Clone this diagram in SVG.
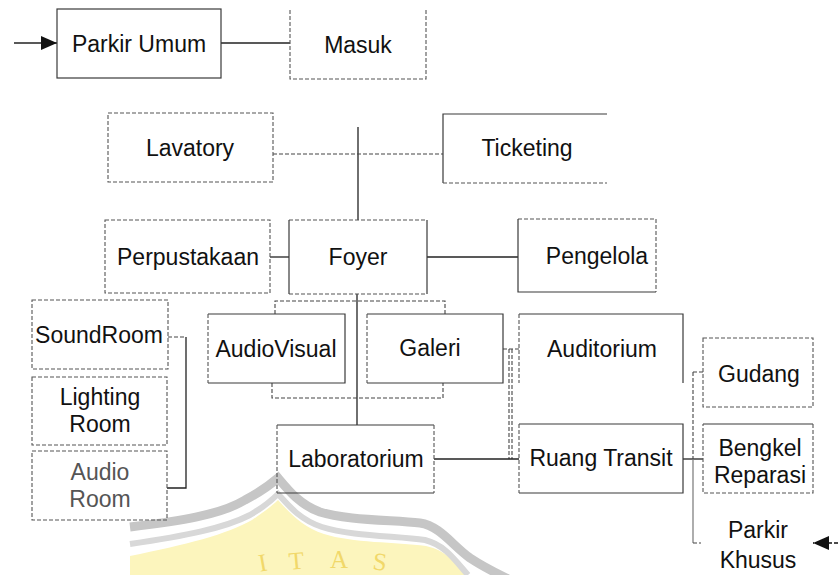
<svg xmlns="http://www.w3.org/2000/svg" width="838" height="575" viewBox="0 0 838 575">
<style>
  .bg{fill:#ffffff}
  .s{stroke:#3a3a3a;stroke-width:1.2;fill:none}
  .d{stroke:#555;stroke-width:1.1;fill:none;stroke-dasharray:4 2}
  .c{stroke:#222;stroke-width:1.3;fill:none}
  .cd{stroke:#444;stroke-width:1.1;fill:none;stroke-dasharray:4 2}
  text{font-family:"Liberation Sans",Arial,sans-serif;font-size:23px;fill:#111;text-anchor:middle}
  .g{fill:#555}
  .wm{font-family:"Liberation Serif","Times New Roman",serif;font-size:25px;fill:#f1d86a;text-anchor:middle}
</style>
<defs>
  <marker id="ah" markerWidth="18" markerHeight="16" refX="17" refY="8" orient="auto" markerUnits="userSpaceOnUse">
    <path d="M1,1 L17,8 L1,15 Z" fill="#111"/>
  </marker>
</defs>
<rect class="bg" x="0" y="0" width="838" height="575"/>

<g id="watermark">
  <path d="M130,556 C185,545 228,534 252,520 C264,512 273,505 278,500 C289,512 302,527 324,534 C352,543 396,542 426,546 C446,550 458,565 466,575 L130,575 Z" fill="#fcf5bd"/>
  <path d="M130,544 C185,536 225,528 250,515 C262,508 272,500 278,494 C288,505 300,520 322,527 C350,536 395,536 425,540 C445,545 455,560 468,575" stroke="#d8d8d8" stroke-width="6" fill="none"/>
  <path d="M130,527 C180,521 220,515 245,500 C260,492 270,485 278,478 C288,490 300,505 320,512 C345,520 390,520 420,523 C440,526 452,545 470,558 C485,568 500,575 510,580" stroke="#c6c6c6" stroke-width="9" fill="none"/>
  <text class="wm" x="264" y="571" transform="rotate(-10 264 571)">I</text>
  <text class="wm" x="297" y="569" transform="rotate(-5 297 569)">T</text>
  <text class="wm" x="339" y="568">A</text>
  <text class="wm" x="379" y="570" transform="rotate(7 379 570)">S</text>
</g>

<g id="connectors">
  <line class="c" x1="14" y1="43" x2="57" y2="43" marker-end="url(#ah)"/>
  <line class="c" x1="221" y1="43" x2="290" y2="43"/>
  <line class="c" x1="358" y1="127" x2="358" y2="220"/>
  <line class="cd" x1="273" y1="154" x2="443" y2="154"/>
  <line class="c" x1="270" y1="257" x2="289" y2="257"/>
  <line class="c" x1="427" y1="257" x2="518" y2="257"/>
  <line class="c" x1="357" y1="294" x2="357" y2="425"/>
  <path class="cd" d="M275,314 V301 H445 V314"/>
  <path class="cd" d="M272,383 V398 H443 V383"/>
  <path class="cd" d="M168,337 H186"/>
  <path class="c" d="M186,337 V488 H167"/>
  <line class="cd" x1="503" y1="349" x2="519" y2="349"/>
  <line class="cd" x1="509" y1="349" x2="509" y2="459"/>
  <line class="cd" x1="512" y1="349" x2="512" y2="459"/>
  <line class="c" x1="434" y1="459" x2="519" y2="459"/>
  <line class="c" x1="683" y1="459" x2="703" y2="459"/>
  <line class="cd" x1="693" y1="372" x2="693" y2="459"/>
  <line class="s" x1="693" y1="459" x2="693" y2="543" style="stroke:#777"/>
  <line class="cd" x1="693" y1="372" x2="703" y2="372"/>
  <line class="cd" x1="693" y1="543" x2="701" y2="543"/>
  <line class="cd" x1="838" y1="543" x2="813" y2="543" style="stroke:#111;stroke-width:1.4" marker-end="url(#ah)"/>
</g>

<g id="parkir-umum">
  <rect class="s" x="57" y="9" width="164" height="69"/>
  <text x="139" y="52">Parkir Umum</text>
</g>
<g id="masuk">
  <path class="d" d="M290,10 V79 H426 V10"/>
  <text x="358" y="53">Masuk</text>
</g>
<g id="lavatory">
  <rect class="d" x="108" y="113" width="165" height="69"/>
  <text x="190" y="156">Lavatory</text>
</g>
<g id="ticketing">
  <path class="s" d="M607,114 H443 V183"/>
  <path class="d" d="M443,183 H607"/>
  <text x="527" y="156">Ticketing</text>
</g>
<g id="perpustakaan">
  <rect class="d" x="105" y="220" width="165" height="73"/>
  <text x="188" y="265">Perpustakaan</text>
</g>
<g id="foyer">
  <path class="d" d="M289,220 H427 M289,294 H427"/>
  <path class="s" d="M289,220 V294 M427,220 V294"/>
  <text x="358" y="265">Foyer</text>
</g>
<g id="pengelola">
  <path class="d" d="M518,219 H656 V292"/>
  <path class="s" d="M518,219 V292 H656"/>
  <text x="597" y="264">Pengelola</text>
</g>
<g id="soundroom">
  <rect class="d" x="32" y="300" width="136" height="69"/>
  <text x="99" y="343">SoundRoom</text>
</g>
<g id="lighting-room">
  <rect class="d" x="32" y="377" width="135" height="68"/>
  <text x="100" y="405">Lighting</text>
  <text x="100" y="432">Room</text>
</g>
<g id="audio-room">
  <rect class="d" x="32" y="451" width="135" height="69"/>
  <text class="g" x="100" y="480">Audio</text>
  <text class="g" x="100" y="507">Room</text>
</g>
<g id="audiovisual">
  <path class="s" d="M208,314 H345 V383 H208"/>
  <path class="d" d="M208,314 V383"/>
  <text x="276" y="357">AudioVisual</text>
</g>
<g id="galeri">
  <path class="s" d="M367,314 H503 V383 H367"/>
  <path class="d" d="M367,314 V383"/>
  <text x="430" y="356">Galeri</text>
</g>
<g id="auditorium">
  <path class="s" d="M519,314 H683 V383"/>
  <path class="d" d="M519,314 V383"/>
  <text x="602" y="357">Auditorium</text>
</g>
<g id="laboratorium">
  <path class="s" d="M277,425 H434 M277,493 H434"/>
  <path class="d" d="M277,425 V493 M434,425 V493"/>
  <text x="356" y="467">Laboratorium</text>
</g>
<g id="ruang-transit">
  <path class="s" d="M519,424 H683 V493 H519"/>
  <path class="d" d="M519,424 V493"/>
  <text x="601" y="466">Ruang Transit</text>
</g>
<g id="gudang">
  <rect class="d" x="703" y="338" width="110" height="69"/>
  <text x="759" y="382">Gudang</text>
</g>
<g id="bengkel-reparasi">
  <path class="s" d="M703,424 H813"/>
  <path class="d" d="M813,424 V493 H703 V424"/>
  <text x="760" y="456">Bengkel</text>
  <text x="760" y="483">Reparasi</text>
</g>
<g id="parkir-khusus">
  <text x="758" y="538">Parkir</text>
  <text x="758" y="568">Khusus</text>
</g>
</svg>
